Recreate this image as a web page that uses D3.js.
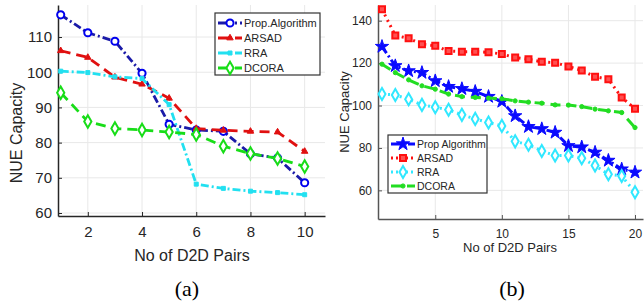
<!DOCTYPE html>
<html>
<head>
<meta charset="utf-8">
<script src="https://cdn.jsdelivr.net/npm/d3@7"></script>
<style>
  body { margin: 0; background: #fff; }
  text { font-family: "Liberation Sans", Arial, sans-serif; fill: #262626; }
</style>
</head>
<body>
<script>
const width = 644, height = 305;

// ---- panel (a) data ----
const pairsA = [1, 2, 3, 4, 5, 6, 7, 8, 9, 10];
const propA  = [116.3, 111.2, 108.8, 99.7, 85.2, 83.6, 83.2, 76.8, 75.6, 68.6];
const arsadA = [106.1, 104.2, 98.6, 96.6, 92.6, 84.0, 83.5, 83.2, 83.0, 77.5];
const rraA   = [100.3, 99.9, 98.7, 98.2, 90.8, 68.2, 67.0, 66.2, 65.8, 65.2];
const dcoraA = [94.2, 86.0, 84.0, 83.6, 83.0, 82.3, 79.0, 76.9, 75.5, 73.2];
const xTicksA = [2, 4, 6, 8, 10];
const yTicksA = [60, 70, 80, 90, 100, 110];

// ---- panel (b) data ----
const pairsB = d3.range(1, 21);
const propB  = [127.8, 118.7, 116.3, 115.5, 111.6, 108.9, 107.9, 106.6, 104.2, 101.9,
                95.1, 90.0, 89.0, 87.3, 81.0, 80.4, 77.9, 74.1, 70.0, 68.5];
const arsadB = [145.4, 133.0, 131.7, 128.9, 128.2, 125.7, 125.4, 125.4, 125.1, 124.3,
                122.6, 121.8, 120.6, 120.2, 118.4, 116.5, 113.6, 112.4, 103.8, 98.5];
const rraB   = [105.4, 105.0, 103.0, 100.3, 99.2, 98.0, 95.6, 93.7, 92.0, 90.4,
                83.1, 81.5, 78.6, 76.4, 76.4, 75.2, 71.7, 67.6, 66.8, 59.1];
const dcoraB = [119.5, 115.5, 112.1, 109.3, 107.7, 105.4, 104.2, 103.8, 103.5, 103.2,
                102.2, 101.6, 101.1, 100.3, 100.2, 99.5, 98.3, 97.5, 96.7, 89.6];
const xTicksB = [5, 10, 15, 20];
const yTicksB = [60, 80, 100, 120, 140];

const names = ["Prop.Algorithm", "ARSAD", "RRA", "DCORA"];
const namesB = ["Prop Algorithm", "ARSAD", "RRA", "DCORA"];

const svg = d3.select("body").append("svg")
    .attr("width", width)
    .attr("height", height);

function drawPanel(p) {
  const x = d3.scaleLinear().domain(p.xDomain).range([p.left, p.right]);
  const y = d3.scaleLinear().domain(p.yDomain).range([p.bottom, p.top]);
  const g = svg.append("g");

  // grid
  g.append("g").selectAll("line").data(p.xTicks).enter().append("line")
      .attr("x1", d => x(d)).attr("x2", d => x(d))
      .attr("y1", p.top).attr("y2", p.bottom)
      .style("stroke", "#e8e8e8").style("stroke-width", 1);
  g.append("g").selectAll("line").data(p.yTicks).enter().append("line")
      .attr("x1", p.left).attr("x2", p.right)
      .attr("y1", d => y(d)).attr("y2", d => y(d))
      .style("stroke", "#e8e8e8").style("stroke-width", 1);

  // axes
  const ax = g.append("g").attr("transform", "translate(0," + p.bottom + ")")
      .call(d3.axisBottom(x).tickValues(p.xTicks).tickSizeInner(-4).tickSizeOuter(0).tickPadding(10));
  const ay = g.append("g").attr("transform", "translate(" + p.left + ",0)")
      .call(d3.axisLeft(y).tickValues(p.yTicks).tickSizeInner(-4).tickSizeOuter(0).tickPadding(6));
  [ax, ay].forEach(a => {
    a.select(".domain").style("stroke", p.axisColor).style("stroke-width", 1.5);
    a.selectAll(".tick line").style("stroke", p.axisColor);
    a.selectAll(".tick text").style("font-size", p.tickFont + "px").style("fill", "#262626")
      .attr("font-family", "Liberation Sans, Arial, sans-serif");
  });

  // axis titles
  g.append("text")
      .attr("x", (p.left + p.xTitleX)).attr("y", p.xTitleY)
      .attr("text-anchor", "middle")
      .style("font-size", p.titleFont + "px")
      .text("No of D2D Pairs");
  g.append("text")
      .attr("transform", "translate(" + p.yTitleX + "," + p.yTitleY + ") rotate(-90)")
      .attr("text-anchor", "middle")
      .style("font-size", p.titleFont + "px")
      .text("NUE Capacity");

  // series
  p.series.forEach(s => {
    const line = d3.line().x((d, i) => x(p.pairs[i])).y(d => y(d));
    g.append("path").datum(s.values)
        .attr("d", line)
        .style("fill", "none")
        .style("stroke", s.color)
        .style("stroke-width", s.width)
        .style("stroke-dasharray", s.dash);
    g.append("g").selectAll("path").data(s.values).enter().append("path")
        .attr("transform", (d, i) => "translate(" + x(p.pairs[i]) + "," + y(d) + ")")
        .attr("d", d3.symbol().type(s.symbol).size(s.size))
        .style("fill", s.fill)
        .style("stroke", s.mColor)
        .style("stroke-width", s.mWidth);
  });

  // legend
  const lg = g.append("g").attr("transform", "translate(" + p.legend.x + "," + p.legend.y + ")");
  lg.append("rect").attr("width", p.legend.w).attr("height", p.legend.h)
      .style("fill", "#fff").style("stroke", "#333").style("stroke-width", 1.2);
  p.series.forEach((s, i) => {
    const yy = p.legend.first + i * p.legend.step;
    lg.append("line").attr("x1", 3).attr("x2", 27).attr("y1", yy).attr("y2", yy)
        .style("stroke", s.color).style("stroke-width", s.width)
        .style("stroke-dasharray", s.legendDash);
    lg.append("path").attr("transform", "translate(15," + yy + ")")
        .attr("d", d3.symbol().type(s.symbol).size(s.size))
        .style("fill", s.fill).style("stroke", s.mColor).style("stroke-width", s.mWidth);
    lg.append("text").attr("x", 29).attr("y", yy + p.legend.font * 0.36)
        .style("font-size", p.legend.font + "px")
        .text(p.names[i]);
  });

  // caption
  svg.append("text")
      .attr("x", p.capX).attr("y", 296)
      .attr("text-anchor", "middle")
      .style("font-family", "Liberation Serif, Times New Roman, serif")
      .style("font-size", "22px")
      .style("fill", "#000")
      .text(p.caption);
}

drawPanel({
  pairs: pairsA, names: names,
  xDomain: [0.9, 10.75], yDomain: [59.15, 119.1],
  left: 58, right: 325, top: 5, bottom: 216,
  xTicks: xTicksA, yTicks: yTicksA,
  axisColor: "#262626", tickFont: 15, titleFont: 16,
  xTitleX: 134, xTitleY: 261, yTitleX: 22, yTitleY: 133,
  caption: "(a)", capX: 187,
  legend: { x: 215, y: 13, w: 105, h: 62, first: 10, step: 15, font: 11 },
  series: [
    { values: propA,  color: "#1a1aa8", width: 2.8, dash: "8,3,2,3", legendDash: "14,3,2,3",
      symbol: d3.symbolCircle, size: 40, fill: "#fff", mColor: "#0000ee", mWidth: 2 },
    { values: arsadA, color: "#e01010", width: 2.8, dash: "10,6", legendDash: "14,3",
      symbol: d3.symbolTriangle, size: 18, fill: "#e01010", mColor: "#e01010", mWidth: 1 },
    { values: rraA,   color: "#22e0f0", width: 2.8, dash: "8,3,2,3", legendDash: "14,3",
      symbol: d3.symbolSquare, size: 16, fill: "#22e0f0", mColor: "#22e0f0", mWidth: 1 },
    { values: dcoraA, color: "#18dd18", width: 2.8, dash: "10,6", legendDash: "14,3",
      symbol: d3.symbolDiamond, size: 45, fill: "#fff", mColor: "#18dd18", mWidth: 2 }
  ]
});

drawPanel({
  pairs: pairsB, names: namesB,
  xDomain: [0.7, 20.6], yDomain: [46.5, 147.4],
  left: 378, right: 643, top: 5, bottom: 219,
  xTicks: xTicksB, yTicks: yTicksB,
  axisColor: "#555", tickFont: 12, titleFont: 13,
  xTitleX: 132, xTitleY: 252, yTitleX: 349, yTitleY: 112,
  caption: "(b)", capX: 512,
  legend: { x: 388, y: 135, w: 99, h: 58, first: 9, step: 14, font: 10.5 },
  series: [
    { values: propB,  color: "#0a0aff", width: 3, dash: "8,3,2,3", legendDash: "14,3",
      symbol: d3.symbolStar, size: 55, fill: "#0a0aff", mColor: "#0a0aff", mWidth: 1 },
    { values: arsadB, color: "#ff1010", width: 3, dash: "2,4", legendDash: "2,3",
      symbol: d3.symbolSquare, size: 36, fill: "#ff5050", mColor: "#ff1010", mWidth: 2 },
    { values: rraB,   color: "#30e8ff", width: 3, dash: "2,4", legendDash: "2,3",
      symbol: d3.symbolDiamond, size: 42, fill: "#fff", mColor: "#30e8ff", mWidth: 2 },
    { values: dcoraB, color: "#22dd22", width: 3, dash: "10,6", legendDash: "12,4",
      symbol: d3.symbolCircle, size: 14, fill: "#22dd22", mColor: "#22dd22", mWidth: 1 }
  ]
});
</script>
</body>
</html>
